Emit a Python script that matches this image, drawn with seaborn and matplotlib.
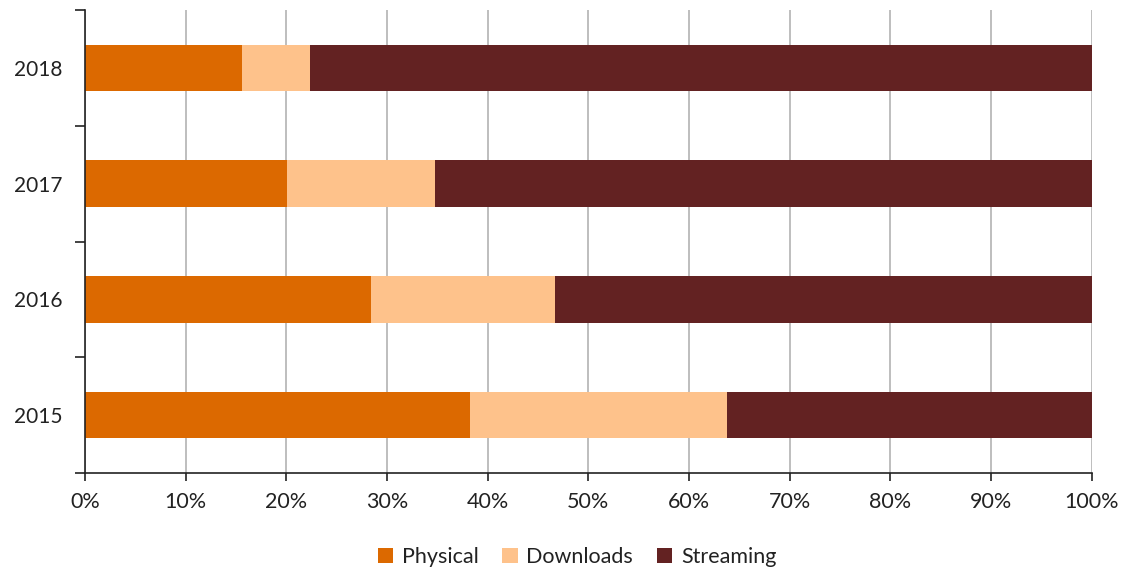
import matplotlib
matplotlib.use("Agg")
import matplotlib.pyplot as plt
from matplotlib.patches import Patch
from matplotlib.ticker import FixedLocator, PercentFormatter
import pandas as pd
import seaborn as sns

# Share of revenue by format (%)
years = ["2018", "2017", "2016", "2015"]
physical = [15.6, 20.1, 28.4, 38.3]
downloads = [6.8, 14.7, 18.3, 25.5]
streaming = [77.6, 65.2, 53.3, 36.2]

series_names = ["Physical", "Downloads", "Streaming"]
colors = {"Physical": "#DC6900", "Downloads": "#FEC28B", "Streaming": "#632222"}

sns.set_theme(style="white")
plt.rcParams["font.family"] = ["Lato", "DejaVu Sans"]

df = pd.DataFrame({"year": years, "Physical": physical,
                   "Downloads": downloads, "Streaming": streaming})
df["cum_dl"] = df["Physical"] + df["Downloads"]
df["cum_st"] = df["cum_dl"] + df["Streaming"]

fig = plt.figure(figsize=(11.26, 5.72), dpi=100)
ax = fig.add_axes([85 / 1126, (572 - 473) / 572, (1091.5 - 85) / 1126, 463 / 572])

# Stack by drawing cumulative totals back to front
for col, name in [("cum_st", "Streaming"), ("cum_dl", "Downloads"), ("Physical", "Physical")]:
    sns.barplot(data=df, x=col, y="year", order=years, orient="h",
                color=colors[name], saturation=1, width=0.4, ax=ax,
                linewidth=0, errorbar=None)

ax.set_xlim(0, 100)
ax.set_ylim(3.5, -0.5)
ax.set_xlabel("")
ax.set_ylabel("")

ax.xaxis.set_major_locator(FixedLocator(range(0, 101, 10)))
ax.xaxis.set_major_formatter(PercentFormatter(decimals=0))
ax.grid(axis="x", color="#B3B3B3", linewidth=1.2)
ax.set_axisbelow(True)

ax.yaxis.set_minor_locator(FixedLocator([-0.5, 0.5, 1.5, 2.5, 3.5]))
ax.tick_params(axis="y", which="major", length=0, pad=16.5, labelsize=15, colors="#222222")
ax.tick_params(axis="y", which="minor", length=7, width=1.2, color="#222222", direction="out", left=True)
ax.tick_params(axis="x", which="major", length=6, width=1.2, color="#222222", direction="out",
               bottom=True, pad=8, labelsize=15.5, labelcolor="#222222")

for side in ["top", "right"]:
    ax.spines[side].set_visible(False)
for side in ["left", "bottom"]:
    ax.spines[side].set_color("#222222")
    ax.spines[side].set_linewidth(1.2)

handles = [Patch(facecolor=colors[n], edgecolor="none", label=n) for n in series_names]
fig.legend(handles=handles, loc="center", bbox_to_anchor=(577 / 1126, (572 - 557) / 572), ncol=3,
           frameon=False, fontsize=15.5, handlelength=0.72, handleheight=0.72,
           handletextpad=0.4, columnspacing=1.1, labelcolor="#222222")

fig.savefig("out.png", dpi=100)
